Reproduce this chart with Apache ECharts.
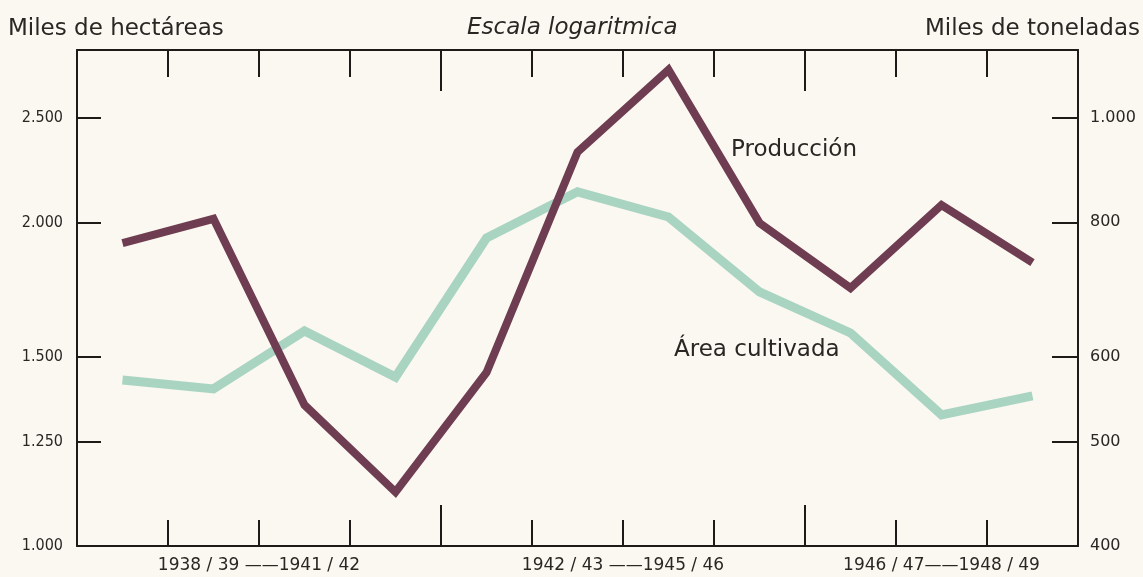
<!DOCTYPE html>
<html lang="es">
<head>
    <meta charset="UTF-8">
    <title>Área cultivada y producción</title>
    <script src="https://cdn.jsdelivr.net/npm/echarts@6.0.0/dist/echarts.min.js"></script>
    <style>
        html, body { margin: 0; padding: 0; background: #fbf8f1; }
        #main { width: 1143px; height: 577px; }
    </style>
</head>
<body>
    <div id="main"></div>
    <script>
        // campañas agrícolas
        var campanas = ['1938/39', '1939/40', '1940/41', '1941/42', '1942/43', '1943/44',
                        '1944/45', '1945/46', '1946/47', '1947/48', '1948/49'];
        // miles de hectáreas (eje izquierdo)
        var areaCultivada = [1427, 1400, 1585, 1436, 1934, 2135, 2023, 1723, 1578, 1324, 1379];
        // miles de toneladas (eje derecho)
        var produccion = [765, 806, 541, 449, 580, 930, 1109, 799, 695, 830, 734];

        var ticksIzq = [1000, 1250, 1500, 2000, 2500];
        var ticksDer = [400, 500, 600, 800, 1000];
        // grupos de campañas en el eje inferior (posición en bandas)
        var gruposPos = [2, 6, 9.5];
        var gruposTxt = ['1938 / 39 ——1941 / 42', '1942 / 43 ——1945 / 46', '1946 / 47——1948 / 49'];

        var tinta = '#1d1a17';
        var fuente = 'DejaVu Sans';
        var fuenteNum = 'DejaVu Sans Condensed';

        function miles(v) {
            v = Math.round(v);
            return String(v).replace(/\B(?=(\d{3})+(?!\d))/g, '.');
        }

        var chart = echarts.init(document.getElementById('main'));

        var ejeCat = function (pos, largo, soloGrupos, conLinea) {
            return {
                type: 'category',
                data: campanas,
                position: pos,
                boundaryGap: true,
                axisLine: { show: conLinea, lineStyle: { color: tinta, width: 2 } },
                axisTick: {
                    show: true, inside: true, length: largo,
                    interval: soloGrupos ? function (i) { return i === 4 || i === 8; } : 0,
                    lineStyle: { color: tinta, width: 2 }
                },
                axisLabel: { show: false },
                splitLine: { show: false }
            };
        };

        var option = {
            backgroundColor: '#fbf8f1',
            animation: false,
            grid: { left: 77, right: 65, top: 50, bottom: 31, containLabel: false, outerBoundsMode: 'none' },
            xAxis: [
                ejeCat('bottom', 26, false, true),
                ejeCat('bottom', 41, true, false),
                ejeCat('top', 27, false, true),
                ejeCat('top', 41, true, false),
                {
                    type: 'value', position: 'bottom', min: 0, max: 11,
                    axisLine: { show: false }, axisTick: { show: false }, splitLine: { show: false },
                    axisLabel: {
                        customValues: gruposPos,
                        margin: 11,
                        color: '#2a2623', fontFamily: fuente, fontSize: 17,
                        formatter: function (v) { return gruposTxt[gruposPos.indexOf(v)] || ''; }
                    }
                }
            ],
            yAxis: [
                {
                    type: 'log', logBase: 10, min: 1000, max: 2893, position: 'left',
                    axisLine: { show: true, lineStyle: { color: tinta, width: 2 } },
                    axisTick: { show: true, inside: true, length: 24, customValues: ticksIzq,
                                lineStyle: { color: tinta, width: 2 } },
                    axisLabel: { customValues: ticksIzq, formatter: miles, margin: 14,
                                 color: '#2a2623', fontFamily: fuenteNum, fontSize: 16 },
                    splitLine: { show: false }
                },
                {
                    type: 'log', logBase: 10, min: 400, max: 1157, position: 'right',
                    axisLine: { show: true, lineStyle: { color: tinta, width: 2 } },
                    axisTick: { show: true, inside: true, length: 26, customValues: ticksDer,
                                lineStyle: { color: tinta, width: 2 } },
                    axisLabel: { customValues: ticksDer, formatter: miles, margin: 12,
                                 color: '#2a2623', fontFamily: fuente, fontSize: 16 },
                    splitLine: { show: false }
                }
            ],
            series: [
                {
                    name: 'Área cultivada', type: 'line', xAxisIndex: 0, yAxisIndex: 0,
                    data: areaCultivada, symbol: 'none',
                    lineStyle: { color: '#a9d4c1', width: 9, join: 'miter' }
                },
                {
                    name: 'Producción', type: 'line', xAxisIndex: 0, yAxisIndex: 1,
                    data: produccion, symbol: 'none',
                    lineStyle: { color: '#6f3d51', width: 8, join: 'miter' }
                }
            ],
            graphic: [
                { type: 'text', left: 8, top: 18,
                  style: { text: 'Miles de hectáreas', fill: '#2a2623', font: '23px ' + fuente } },
                { type: 'text', left: 467, top: 17,
                  style: { text: 'Escala logaritmica', fill: '#2a2623', font: 'italic 23px ' + fuente } },
                { type: 'text', right: 3, top: 18,
                  style: { text: 'Miles de toneladas', fill: '#2a2623', font: '23px ' + fuente } },
                { type: 'text', left: 731, top: 139,
                  style: { text: 'Producción', fill: '#2a2623', font: '23px ' + fuente } },
                { type: 'text', left: 674, top: 339,
                  style: { text: 'Área cultivada', fill: '#2a2623', font: '23px ' + fuente } }
            ]
        };

        chart.setOption(option);
        window.addEventListener('resize', function () { chart.resize(); });
    </script>
</body>
</html>
